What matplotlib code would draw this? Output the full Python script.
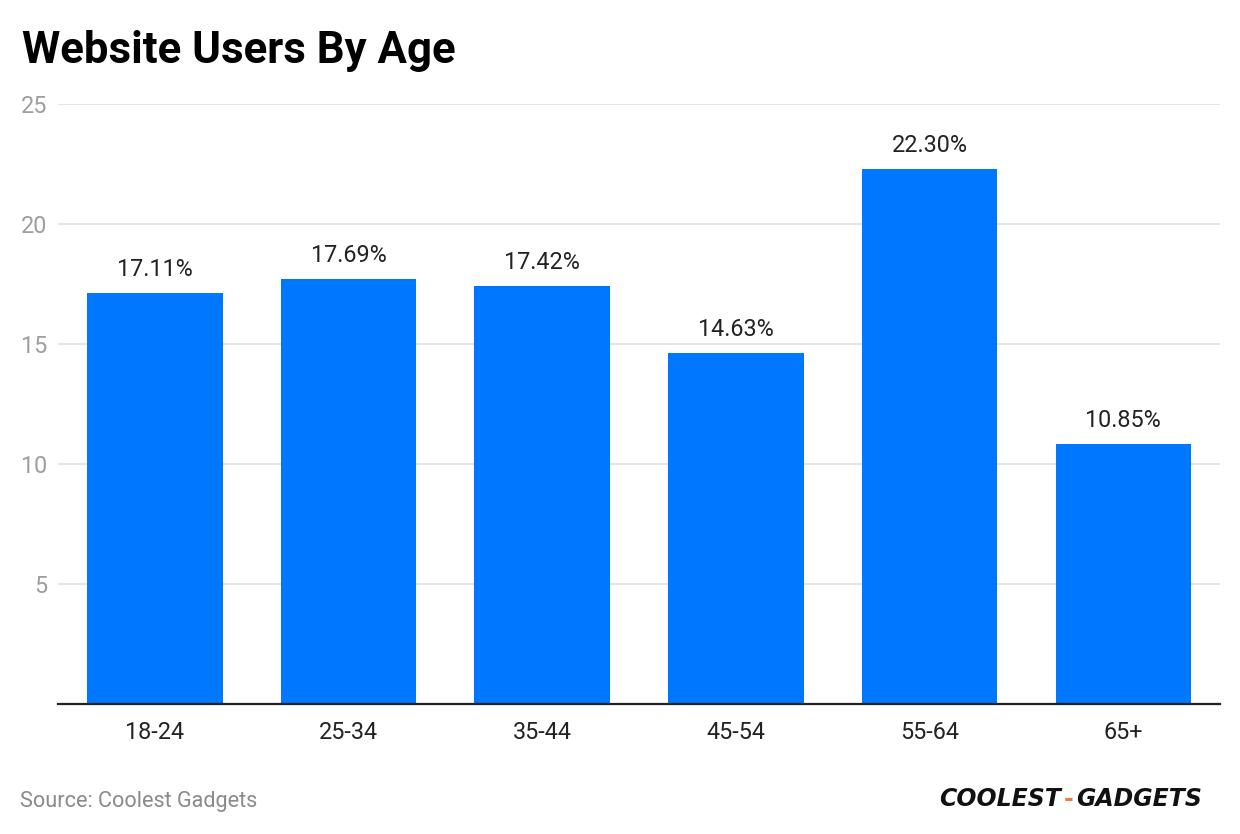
import matplotlib.pyplot as plt

plt.rcParams['font.family'] = ['Roboto', 'DejaVu Sans']

ages = ['18-24', '25-34', '35-44', '45-54', '55-64', '65+']
users = [17.11, 17.69, 17.42, 14.63, 22.30, 10.85]
yticks = [5, 10, 15, 20, 25]

fig = plt.figure(figsize=(12.4, 8.34), dpi=100)
ax = fig.add_axes([0.0468, 0.1559, 0.9372, 0.7194])

x = range(len(ages))
ax.bar(x, users, width=0.7, color='#0077ff', zorder=3)
for i, v in zip(x, users):
    ax.text(i, v + 0.5, f'{v:.2f}%', ha='center', va='bottom', fontsize=16.8, color='#222222')

ax.set_xlim(-0.5, len(ages) - 0.5)
ax.set_ylim(0, 25)
ax.set_yticks(yticks)
ax.set_yticklabels([str(t) for t in yticks])
ax.set_xticks(list(x))
ax.set_xticklabels(ages)
ax.grid(axis='y', color='#e0e0e0', linewidth=1.2, zorder=0)
for s in ['top', 'right', 'left']:
    ax.spines[s].set_visible(False)
ax.spines['bottom'].set_color('#222222')
ax.spines['bottom'].set_linewidth(1.6)
ax.spines['bottom'].set_zorder(4)
ax.tick_params(axis='y', length=0, pad=8, labelsize=16.8, labelcolor='#9e9e9e')
ax.tick_params(axis='x', length=0, pad=12, labelsize=16.8, labelcolor='#222222')

fig.text(0.0177, 0.925, 'Website Users By Age', fontsize=31.5, fontweight='bold', color='#000000')
fig.text(0.0161, 0.032, 'Source: Coolest Gadgets', fontsize=15.6, color='#8a8a8a')

# logo
fig.text(0.757, 0.033, 'COOLEST', fontsize=17, fontweight='black', fontstyle='italic', color='#111111',
         family='DejaVu Sans')
fig.text(0.858, 0.033, '-', fontsize=17, fontweight='black', color='#f07b3f', family='DejaVu Sans')
fig.text(0.868, 0.033, 'GADGETS', fontsize=17, fontweight='black', fontstyle='italic', color='#111111',
         family='DejaVu Sans')

fig.savefig('out.png', dpi=100)
